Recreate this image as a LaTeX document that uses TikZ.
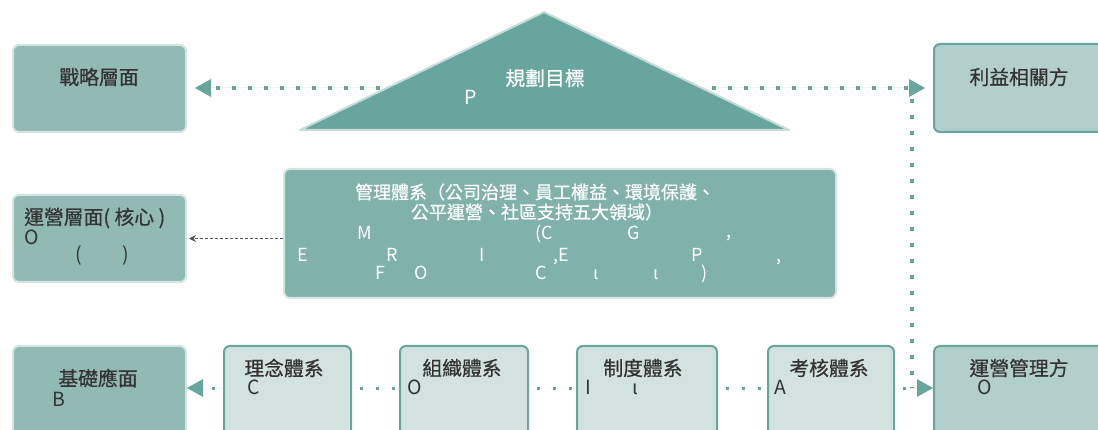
\documentclass[tikz,border=0pt]{standalone}
\usepackage{fontspec}
\setmainfont{Noto Sans CJK TC}
\newfontfamily\lblfont[FakeBold=0.6]{Noto Sans CJK TC}
\usetikzlibrary{arrows.meta}
\definecolor{cDark}{HTML}{68A69D}
\definecolor{cMid}{HTML}{92BAB5}
\definecolor{cMgmt}{HTML}{80B2AB}
\definecolor{cPale}{HTML}{D2E2DF}
\definecolor{cSide}{HTML}{B3CFCB}
\definecolor{cLine}{HTML}{D3E4E1}
\definecolor{cTriB}{HTML}{C5DCD8}
\definecolor{cTxt}{HTML}{333333}
\definecolor{cGrey}{HTML}{555555}
\tikzset{
  box/.style={draw, rounded corners=6pt, line width=2pt, inner sep=0pt, anchor=north west},
  lbl/.style={text=cTxt, font=\lblfont\fontsize{19.8}{22}\selectfont, inner sep=0pt},
  wlbl/.style={text=white, font=\lblfont\fontsize{19.8}{22}\selectfont, inner sep=0pt},
  mlbl/.style={text=white, font=\lblfont\fontsize{18}{21}\selectfont, inner sep=0pt},
  ltr/.style={font=\fontsize{19.5}{22}\selectfont},
  mltr/.style={font=\fontsize{18}{21}\selectfont},
  let/.style={anchor=base west, inner sep=0pt},
  bigtip/.style={-{Triangle[length=16pt,width=18pt,line width=0pt]}},
  topdots/.style={draw=cDark, line width=4pt, dash pattern=on 4pt off 12pt},
  bdots/.style={draw=cDark, line width=3pt, dash pattern=on 3pt off 13pt, dash phase=8pt},
}
\begin{document}
\begin{tikzpicture}[x=1pt,y=-1pt]
\useasboundingbox (0,0) rectangle (1098,430);
\clip (0,0) rectangle (1098,430);
% coordinates
\coordinate (triL) at (380,88);
\coordinate (triR) at (712,88);
\coordinate (vtop) at (912,99);
\coordinate (row) at (0,388);
% boxes
\node[box, fill=cMid, draw=cLine, minimum width=173pt, minimum height=87pt] (strat) at (12,44) {};
\node[box, fill=cSide, draw=cDark, minimum width=200pt, minimum height=88pt] (stake) at (933,43) {};
\node[box, fill=cMid, draw=cLine, minimum width=173pt, minimum height=87pt] (opcore) at (12,194) {};
\node[box, fill=cMgmt, draw=cLine, minimum width=552pt, minimum height=129pt] (mgmt) at (283,168) {};
\node[box, fill=cMid, draw=cLine, minimum width=173pt, minimum height=120pt] (base) at (12,345) {};
\node[box, fill=cPale, draw=cDark, minimum width=127pt, minimum height=120pt] (idea) at (223,345) {};
\node[box, fill=cPale, draw=cDark, minimum width=128pt, minimum height=120pt] (org) at (399,345) {};
\node[box, fill=cPale, draw=cDark, minimum width=140pt, minimum height=120pt] (sys) at (576,345) {};
\node[box, fill=cPale, draw=cDark, minimum width=126pt, minimum height=120pt] (eval) at (767,345) {};
\node[box, fill=cSide, draw=cDark, minimum width=200pt, minimum height=120pt] (opm) at (933,345) {};
% triangle
\draw[fill=cDark, draw=cTriB, line width=2pt, line join=round] (544,12) -- (789,130) -- (300,130) -- cycle;
% connectors
\draw[topdots, bigtip, draw=cDark, fill=cDark, shorten >=8pt] (triL) -- (strat.east |- triL);
\draw[topdots, bigtip, draw=cDark, fill=cDark, shorten >=8pt] (triR) -- (stake.west |- triR);
\draw[topdots] (vtop) -- (vtop |- row);
\draw[bdots, bigtip, fill=cDark] (eval.east |- row) -- (opm.west |- row);
\draw[bdots] (idea.east |- row) -- (org.west |- row);
\draw[bdots] (org.east |- row) -- (sys.west |- row);
\draw[bdots] (sys.east |- row) -- (eval.west |- row);
\draw[bdots, bigtip, fill=cDark] (idea.west |- row) -- (base.east |- row);
\draw[densely dashed, draw=cGrey, line width=0.9pt, -{Stealth[length=7pt,width=7pt]}, shorten >=2pt] (mgmt.west |- opcore.east) -- (opcore.east);
% labels top
\node[lbl] (tStrat) at (99,77) {戰略層面};
\node[wlbl] (tPlan) at (545,78) {規劃目標};
\node[text=white, ltr, let] (tP) at (464,105) {P};
\node[lbl] (tStake) at (1019,77) {利益相關方};
% operations core
\node[lbl, anchor=west] (tCore) at (24,218) {運營層面( 核心 )};
\node[text=cTxt, ltr, let] (tCoreO) at (24,245) {O};
\node[text=cTxt, ltr, let] (tCoreL) at (75,262) {(};
\node[text=cTxt, ltr, let] (tCoreR) at (122,262) {)};
% management
\node[mlbl] (tM1) at (535,192) {管理體系（公司治理、員工權益、環境保護、};
\node[mlbl] (tM2) at (537,212) {公平運營、社區支持五大領域）};
\node[text=white, mltr, let] (m3a) at (357,240) {M};
\node[text=white, mltr, let] (m3b) at (535,240) {(C};
\node[text=white, mltr, let] (m3c) at (627,240) {G};
\node[text=white, mltr, let] (m3d) at (726,238) {,};
\node[text=white, mltr, let] (m4a) at (297,262) {E};
\node[text=white, mltr, let] (m4b) at (386,262) {R};
\node[text=white, mltr, let] (m4c) at (479,262) {I};
\node[text=white, mltr, let] (m4d) at (553,262) {,E};
\node[text=white, mltr, let] (m4e) at (691,262) {P};
\node[text=white, mltr, let] (m4f) at (776,262) {,};
\node[text=white, mltr, let] (m5a) at (375,280) {F};
\node[text=white, mltr, let] (m5b) at (414,280) {O};
\node[text=white, mltr, let] (m5c) at (535,280) {C};
\node[text=white, mltr, let] (m5d) at (593,280) {ι};
\node[text=white, mltr, let] (m5e) at (653,280) {ι};
\node[text=white, mltr, let] (m5f) at (701,280) {)};
% bottom row
\node[lbl] (tBase) at (98,378) {基礎應面};
\node[text=cTxt, ltr, let] (tB) at (52,406) {B};
\node[lbl] (tIdea) at (284,368) {理念體系};
\node[text=cTxt, ltr, let] (tC) at (247,395) {C};
\node[lbl] (tOrg) at (462,368) {組織體系};
\node[text=cTxt, ltr, let] (tO) at (407,395) {O};
\node[lbl] (tSys) at (643,368) {制度體系};
\node[text=cTxt, ltr, let] (tI) at (585,395) {I};
\node[text=cTxt, ltr, let] (tIota) at (632,395) {ι};
\node[lbl] (tEval) at (829,368) {考核體系};
\node[text=cTxt, ltr, let] (tA) at (774,395) {A};
\node[lbl] (tOpm) at (1019,368) {運營管理方};
\node[text=cTxt, ltr, let] (tOpmO) at (977,395) {O};
\end{tikzpicture}
\end{document}
